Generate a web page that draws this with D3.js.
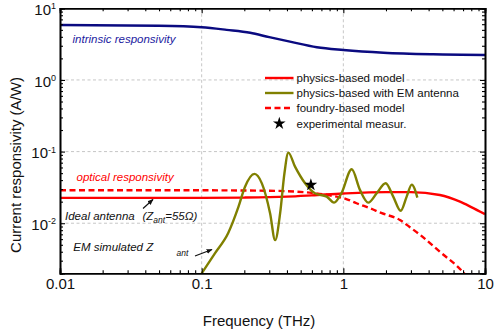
<!DOCTYPE html>
<html>
<head>
<meta charset="utf-8">
<script src="https://cdn.jsdelivr.net/npm/d3@7"></script>
<style>
  body { margin: 0; background: #fff; }
  svg { display: block; font-family: "Liberation Sans", Arial, sans-serif; }
</style>
</head>
<body>
<div id="chart"></div>
<script>
// values
const freqIntrinsic = [0.01, 0.05, 0.1, 0.15, 0.22, 0.3, 0.42, 0.65, 1, 1.92, 4.3, 10]
const respIntrinsic = [5.85, 5.7, 5.43, 5.0, 4.55, 3.95, 3.42, 2.86, 2.62, 2.40, 2.28, 2.23]

const freqPhysics = [0.01, 0.1, 0.2, 0.4, 0.6, 1, 2, 3, 4.8, 6.66, 8, 10]
const respPhysics = [0.0226, 0.0226, 0.0228, 0.0235, 0.0245, 0.026, 0.0272, 0.0272, 0.0248, 0.02, 0.0168, 0.0134]

const freqFoundry = [0.01, 0.1, 0.3, 0.58, 0.8, 1.06, 1.24, 1.54, 1.87, 2.51, 2.95, 3.48, 4.8, 6.96, 8]
const respFoundry = [0.0288, 0.0288, 0.0284, 0.0267, 0.0245, 0.0216, 0.019, 0.0162, 0.0138, 0.0111, 0.0088, 0.0069, 0.004, 0.0021, 0.0015]

const freqEM = [0.1, 0.124, 0.154, 0.182, 0.202, 0.236, 0.266, 0.304, 0.33, 0.358, 0.384, 0.409, 0.456, 0.537, 0.63,
                0.764, 0.86, 0.97, 1.146, 1.31, 1.5, 1.72, 1.99, 2.25, 2.54, 2.8, 3.04, 3.33]
const respEM = [0.002, 0.0038, 0.0073, 0.017, 0.032, 0.0488, 0.036, 0.0138, 0.0058, 0.0138, 0.0499, 0.0966, 0.0617, 0.0362, 0.0262,
                0.0235, 0.0194, 0.0262, 0.0566, 0.0292, 0.0194, 0.0262, 0.0362, 0.0235, 0.0149, 0.0235, 0.0346, 0.0228]

const measFreq = [0.59]
const measResp = [0.0343]

const xMajor = [0.01, 0.1, 1, 10]
const xMajorLabels = ["0.01", "0.1", "1", "10"]
const yMajor = [0.01, 0.1, 1, 10]
const yMajorExp = ["-2", "-1", "0", "1"]

const legendLabels = ["physics-based model", "physics-based with EM antenna", "foundry-based model", "experimental measur."]

const W = 494, H = 335
const mLeft = 60, mRight = 485, mTop = 8.3, mBottom = 273.3

const navy = "#0a0a80", red = "#ff0000", olive = "#808000"

const svg = d3.select("#chart").append("svg")
    .attr("width", W)
    .attr("height", H)

const x = d3.scaleLog().domain([0.01, 10]).range([mLeft, mRight])
const y = d3.scaleLog().domain([0.002, 10]).range([mBottom, mTop])

function minorTicks(scale) {
    let [a, b] = scale.domain()
    let out = []
    for (let e = Math.floor(Math.log10(a)); e <= Math.ceil(Math.log10(b)); e++) {
        for (let m = 2; m <= 9; m++) {
            let v = m * Math.pow(10, e)
            if (v >= a * 0.999 && v <= b * 1.001) out.push(v)
        }
    }
    return out
}

// grid
const grid = svg.append("g").attr("class", "grid")
grid.selectAll("line.gx").data([0.1, 1]).join("line")
    .attr("class", "gx")
    .attr("x1", d => x(d)).attr("x2", d => x(d))
    .attr("y1", mTop).attr("y2", mBottom)
grid.selectAll("line.gy").data([0.01, 0.1, 1]).join("line")
    .attr("class", "gy")
    .attr("x1", mLeft).attr("x2", mRight)
    .attr("y1", d => y(d)).attr("y2", d => y(d))
grid.selectAll("line")
    .attr("stroke", "#b8b8b8")
    .attr("stroke-width", 0.8)
    .attr("stroke-dasharray", "3,2.5")

// curves
svg.append("clipPath").attr("id", "plotclip")
    .append("rect").attr("x", mLeft).attr("y", mTop).attr("width", mRight - mLeft).attr("height", mBottom - mTop)

const paths = svg.append("g").attr("class", "paths").attr("clip-path", "url(#plotclip)")

function series(fs, vs) { return fs.map((f, i) => [f, vs[i]]) }

const line = d3.line()
    .x(d => x(d[0]))
    .y(d => y(d[1]))
    .curve(d3.curveMonotoneX)

paths.append("path").datum(series(freqIntrinsic, respIntrinsic))
    .attr("d", line).attr("stroke", navy)
paths.append("path").datum(series(freqFoundry, respFoundry))
    .attr("d", line).attr("stroke", red).attr("stroke-dasharray", "6,3.5")
paths.append("path").datum(series(freqPhysics, respPhysics))
    .attr("d", line).attr("stroke", red)
paths.append("path").datum(series(freqEM, respEM))
    .attr("d", line).attr("stroke", olive)
paths.selectAll("path")
    .attr("fill", "none")
    .attr("stroke-width", 2.4)
    .attr("stroke-linejoin", "round")

paths.selectAll("path.meas").data(series(measFreq, measResp)).join("path")
    .attr("class", "meas")
    .attr("transform", d => `translate(${x(d[0])},${y(d[1])})`)
    .attr("d", d3.symbol(d3.symbolStar, 50))
    .attr("fill", "#000")

// axes
const axes = svg.append("g").attr("class", "axes")
const minX = minorTicks(x).filter(v => !xMajor.some(m => Math.abs(m - v) < 1e-9))
const minY = minorTicks(y).filter(v => !yMajor.some(m => Math.abs(m - v) < 1e-9))

axes.append("g").attr("transform", `translate(0,${mBottom})`)
    .call(d3.axisBottom(x).tickValues(minX).tickSize(-3).tickFormat(""))
axes.append("g").attr("transform", `translate(0,${mBottom})`)
    .call(d3.axisBottom(x).tickValues(xMajor).tickSize(-5).tickPadding(5).tickFormat((d, i) => xMajorLabels[i]))
axes.append("g").attr("transform", `translate(0,${mTop})`)
    .call(d3.axisTop(x).tickValues(minX).tickSize(-3).tickFormat(""))
axes.append("g").attr("transform", `translate(0,${mTop})`)
    .call(d3.axisTop(x).tickValues(xMajor).tickSize(-5).tickFormat(""))

axes.append("g").attr("transform", `translate(${mLeft},0)`)
    .call(d3.axisLeft(y).tickValues(minY).tickSize(-3).tickFormat(""))
const yAxis = axes.append("g").attr("transform", `translate(${mLeft},0)`)
    .call(d3.axisLeft(y).tickValues(yMajor).tickSize(-5).tickPadding(6).tickFormat(""))
axes.append("g").attr("transform", `translate(${mRight},0)`)
    .call(d3.axisRight(y).tickValues(minY).tickSize(-3).tickFormat(""))
axes.append("g").attr("transform", `translate(${mRight},0)`)
    .call(d3.axisRight(y).tickValues(yMajor).tickSize(-5).tickFormat(""))

axes.selectAll("path.domain").attr("stroke", "#000").attr("stroke-width", 1.6)
axes.selectAll(".tick line").attr("stroke", "#000").attr("stroke-width", 1.1)
axes.selectAll(".tick text")
    .attr("fill", "#111")
    .style("font-size", "15px")
    .style("font-family", "Liberation Sans, Arial, sans-serif")

yAxis.selectAll(".tick text")
    .attr("x", -4)
    .attr("dy", "0.42em")
    .each(function (d, i) {
        let t = d3.select(this)
        t.append("tspan").text("10")
        t.append("tspan").text(yMajorExp[i]).attr("dy", "-0.65em").style("font-size", "9px")
    })

// axis titles
svg.append("text")
    .attr("x", 259).attr("y", 326)
    .attr("text-anchor", "middle")
    .style("font-size", "15px")
    .attr("fill", "#111")
    .text("Frequency (THz)")
svg.append("text")
    .attr("transform", "translate(21,165) rotate(-90)")
    .attr("text-anchor", "middle")
    .style("font-size", "15px")
    .attr("fill", "#111")
    .text("Current responsivity (A/W)")

// legend
const legend = svg.append("g").attr("class", "legend")
const rowY = [78, 93, 108, 123.5]
const styles = [
    {stroke: red, dash: null},
    {stroke: olive, dash: null},
    {stroke: red, dash: "6,3.5"},
]
styles.forEach((s, i) => {
    legend.append("line")
        .attr("x1", 265).attr("x2", 293.5)
        .attr("y1", rowY[i]).attr("y2", rowY[i])
        .attr("stroke", s.stroke).attr("stroke-width", 2.4)
        .attr("stroke-dasharray", s.dash)
})
legend.append("path")
    .attr("transform", `translate(279.3,${rowY[3]})`)
    .attr("d", d3.symbol(d3.symbolStar, 50))
    .attr("fill", "#000")
legend.selectAll("text").data(legendLabels).join("text")
    .attr("x", 296.5)
    .attr("y", (d, i) => rowY[i] + 4)
    .style("font-size", "11.5px")
    .attr("fill", "#111")
    .text(d => d)

// annotations
const notes = svg.append("g").attr("class", "notes")
    .style("font-style", "italic")
    .style("font-size", "11.5px")
notes.append("text").attr("x", 72.5).attr("y", 42.7).attr("fill", "#1a1aa0").text("intrinsic responsivity")
notes.append("text").attr("x", 76.5).attr("y", 180.5).attr("fill", red).text("optical responsivity")
notes.append("text").attr("x", 65).attr("y", 219.5).attr("fill", "#111").text("Ideal antenna")
const zant = notes.append("text").attr("x", 142.5).attr("y", 219.5).attr("fill", "#111")
zant.append("tspan").text("(Z")
zant.append("tspan").text("ant").attr("dy", 3.5).style("font-size", "8.5px")
zant.append("tspan").text("=55Ω)").attr("dy", -3.5)
notes.append("text").attr("x", 73.3).attr("y", 250.7).attr("fill", "#111").text("EM simulated Z")
notes.append("text").attr("x", 176.5).attr("y", 256).attr("fill", "#111").style("font-size", "8.5px").text("ant")

svg.append("defs").append("marker")
    .attr("id", "arrow")
    .attr("viewBox", "0 0 10 10")
    .attr("refX", 9).attr("refY", 5)
    .attr("markerWidth", 6).attr("markerHeight", 6)
    .attr("markerUnits", "userSpaceOnUse")
    .attr("orient", "auto")
    .append("path").attr("d", "M0,1 L10,5 L0,9 Z").attr("fill", "#111")

const arrows = [[143, 208.5, 153, 199.5], [195, 256, 212, 249.5]]
svg.append("g").selectAll("line").data(arrows).join("line")
    .attr("x1", d => d[0]).attr("y1", d => d[1])
    .attr("x2", d => d[2]).attr("y2", d => d[3])
    .attr("stroke", "#111").attr("stroke-width", 1.2)
    .attr("marker-end", "url(#arrow)")
</script>
</body>
</html>
